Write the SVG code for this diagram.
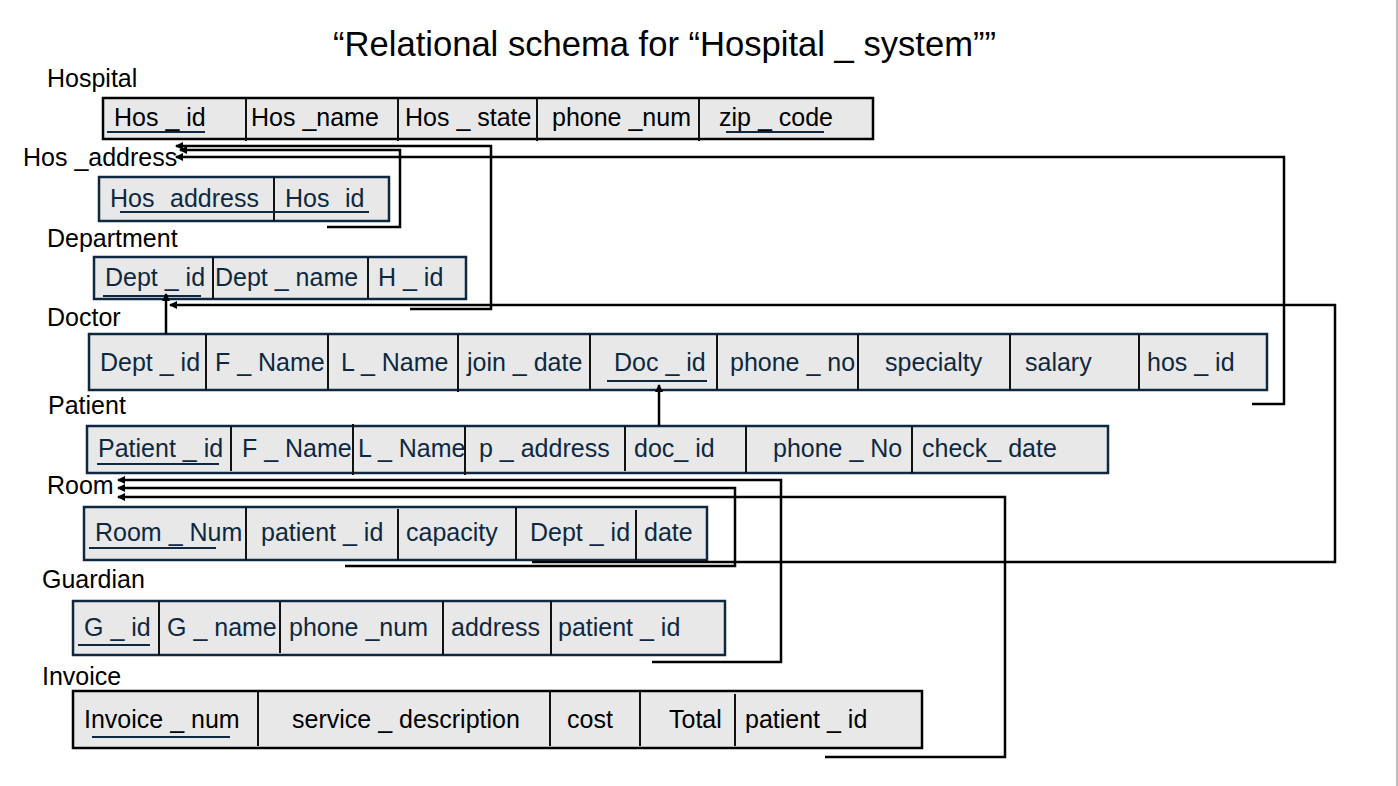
<svg xmlns="http://www.w3.org/2000/svg" width="1398" height="786" viewBox="0 0 1398 786">
<defs>
<style>
.t{font-family:"Liberation Sans",Arial,sans-serif;font-size:25px;fill:#0e2841}
.tb{font-family:"Liberation Sans",Arial,sans-serif;font-size:25px;fill:#000}
.lbl{font-family:"Liberation Sans",Arial,sans-serif;font-size:25px;fill:#000}
.title{font-family:"Liberation Sans",Arial,sans-serif;font-size:34.6px;fill:#000}
.box{fill:#e8e8e8;stroke:#0e2841;stroke-width:2.5}
.boxb{fill:#e8e8e8;stroke:#000;stroke-width:2.5}
.div{stroke:#111;stroke-width:2}
.ul{stroke:#0e2841;stroke-width:2}
.c{fill:none;stroke:#000;stroke-width:2.5}
</style>
<marker id="ah" viewBox="0 0 8 8" refX="7" refY="4" markerWidth="8" markerHeight="8" markerUnits="userSpaceOnUse" orient="auto">
<path d="M0,0 L8,4 L0,8 z" fill="#000"/>
</marker>
</defs>
<rect width="1398" height="786" fill="#fff"/>
<line x1="1397" y1="0" x2="1397" y2="786" stroke="#aaa" stroke-width="1.5"/>
<text class="title" x="333" y="56">“Relational schema for “Hospital _ system””</text>

<g id="hospital">
<text class="lbl" x="47" y="87">Hospital</text>
<rect class="boxb" x="103" y="98" width="770" height="41"/>
<line class="div" x1="246" y1="98" x2="246" y2="141"/>
<line class="div" x1="398" y1="98" x2="398" y2="141"/>
<line class="div" x1="537" y1="98" x2="537" y2="141"/>
<line class="div" x1="699" y1="98" x2="699" y2="141"/>
<text class="tb" x="114" y="126">Hos _ id</text>
<text class="tb" x="251" y="126">Hos _name</text>
<text class="tb" x="405" y="126">Hos _ state</text>
<text class="tb" x="552" y="126">phone _num</text>
<text class="tb" x="719" y="126">zip _ code</text>
<line class="ul" x1="107" y1="132" x2="205" y2="132"/>
<line class="ul" x1="726" y1="132" x2="824" y2="132"/>
</g>

<g id="hos_address">
<text class="lbl" x="23" y="166">Hos _address</text>
<rect class="box" x="99" y="177" width="290" height="44"/>
<line class="div" x1="274" y1="177" x2="274" y2="221"/>
<text class="t" x="110" y="207">Hos</text>
<text class="t" x="170" y="207">address</text>
<text class="t" x="285" y="207">Hos</text>
<text class="t" x="345" y="207">id</text>
<line class="ul" x1="120" y1="212" x2="369" y2="212"/>
</g>

<g id="department">
<text class="lbl" x="47" y="247">Department</text>
<rect class="box" x="94" y="257" width="372" height="42"/>
<line class="div" x1="213" y1="257" x2="213" y2="299"/>
<line class="div" x1="368" y1="257" x2="368" y2="299"/>
<text class="t" x="105" y="286">Dept _ id</text>
<text class="t" x="215" y="286">Dept _ name</text>
<text class="t" x="378" y="286">H _ id</text>
<line class="ul" x1="103" y1="296" x2="201" y2="296"/>
</g>

<g id="doctor">
<text class="lbl" x="47" y="326">Doctor</text>
<rect class="box" x="89" y="334" width="1178" height="56"/>
<line class="div" x1="206" y1="334" x2="206" y2="390"/>
<line class="div" x1="328" y1="334" x2="328" y2="390"/>
<line class="div" x1="458" y1="334" x2="458" y2="392"/>
<line class="div" x1="590" y1="334" x2="590" y2="390"/>
<line class="div" x1="717" y1="334" x2="717" y2="390"/>
<line class="div" x1="858" y1="334" x2="858" y2="390"/>
<line class="div" x1="1010" y1="334" x2="1010" y2="390"/>
<line class="div" x1="1139" y1="334" x2="1139" y2="390"/>
<text class="t" x="100" y="371">Dept _ id</text>
<text class="t" x="215" y="371">F _ Name</text>
<text class="t" x="341" y="371">L _ Name</text>
<text class="t" x="467" y="371">join _ date</text>
<text class="t" x="614" y="371">Doc _ id</text>
<text class="t" x="730" y="371">phone _ no</text>
<text class="t" x="885" y="371">specialty</text>
<text class="t" x="1025" y="371">salary</text>
<text class="t" x="1147" y="371">hos _ id</text>
<line class="ul" x1="607" y1="381" x2="707" y2="381"/>
</g>

<g id="patient">
<text class="lbl" x="48" y="414">Patient</text>
<rect class="box" x="87" y="426" width="1021" height="47"/>
<line class="div" x1="231" y1="426" x2="231" y2="471"/>
<line class="div" x1="353" y1="424" x2="353" y2="475"/>
<line class="div" x1="465" y1="426" x2="465" y2="475"/>
<line class="div" x1="625" y1="426" x2="625" y2="471"/>
<line class="div" x1="746" y1="426" x2="746" y2="473"/>
<line class="div" x1="912" y1="426" x2="912" y2="473"/>
<text class="t" x="98" y="457">Patient _ id</text>
<text class="t" x="242" y="457">F _ Name</text>
<text class="t" x="358" y="457">L _ Name</text>
<text class="t" x="479" y="457">p _ address</text>
<text class="t" x="634" y="457">doc_ id</text>
<text class="t" x="773" y="457">phone _ No</text>
<text class="t" x="922" y="457">check_ date</text>
<line class="ul" x1="97" y1="464" x2="219" y2="464"/>
</g>

<g id="room">
<text class="lbl" x="47" y="494">Room</text>
<rect class="box" x="84" y="507" width="623" height="53"/>
<line class="div" x1="246" y1="507" x2="246" y2="560"/>
<line class="div" x1="398" y1="509" x2="398" y2="560"/>
<line class="div" x1="516" y1="507" x2="516" y2="560"/>
<line class="div" x1="636" y1="510" x2="636" y2="560"/>
<text class="t" x="95" y="541">Room _ Num</text>
<text class="t" x="261" y="541">patient _ id</text>
<text class="t" x="406" y="541">capacity</text>
<text class="t" x="530" y="541">Dept _ id</text>
<text class="t" x="644" y="541">date</text>
<line class="ul" x1="89" y1="548" x2="216" y2="548"/>
</g>

<g id="guardian">
<text class="lbl" x="42" y="588">Guardian</text>
<rect class="box" x="73" y="601" width="652" height="54"/>
<line class="div" x1="159" y1="601" x2="159" y2="655"/>
<line class="div" x1="280" y1="601" x2="280" y2="653"/>
<line class="div" x1="443" y1="601" x2="443" y2="655"/>
<line class="div" x1="551" y1="601" x2="551" y2="655"/>
<text class="t" x="84" y="636">G _ id</text>
<text class="t" x="167" y="636">G _ name</text>
<text class="t" x="289" y="636">phone _num</text>
<text class="t" x="451" y="636">address</text>
<text class="t" x="558" y="636">patient _ id</text>
<line class="ul" x1="78" y1="645" x2="150" y2="645"/>
</g>

<g id="invoice">
<text class="lbl" x="42" y="685">Invoice</text>
<rect class="boxb" x="73" y="691" width="849" height="57"/>
<line class="div" x1="258" y1="691" x2="258" y2="746"/>
<line class="div" x1="550" y1="691" x2="550" y2="746"/>
<line class="div" x1="640" y1="691" x2="640" y2="746"/>
<line class="div" x1="735" y1="694" x2="735" y2="746"/>
<text class="tb" x="84" y="728">Invoice _ num</text>
<text class="tb" x="292" y="728">service _ description</text>
<text class="tb" x="567" y="728">cost</text>
<text class="tb" x="669" y="728">Total</text>
<text class="tb" x="745" y="728">patient _ id</text>
<line class="ul" x1="92" y1="737" x2="230" y2="737"/>
</g>

<g id="connectors">
<path class="c" d="M327,227 H400 V150 H180" marker-end="url(#ah)"/>
<path class="c" d="M410,309 H491 V146 H176" marker-end="url(#ah)"/>
<path class="c" d="M1252,404 H1284 V157 H176" marker-end="url(#ah)"/>
<path class="c" d="M166,334 V294" marker-end="url(#ah)"/>
<path class="c" d="M532,562 H1335 V305 H170" marker-end="url(#ah)"/>
<path class="c" d="M659,426 V385" marker-end="url(#ah)"/>
<path class="c" d="M652,662 H781 V480 H118" marker-end="url(#ah)"/>
<path class="c" d="M345,566 H735 V488 H118" marker-end="url(#ah)"/>
<path class="c" d="M825,757 H1005 V497 H118" marker-end="url(#ah)"/>
</g>
</svg>
